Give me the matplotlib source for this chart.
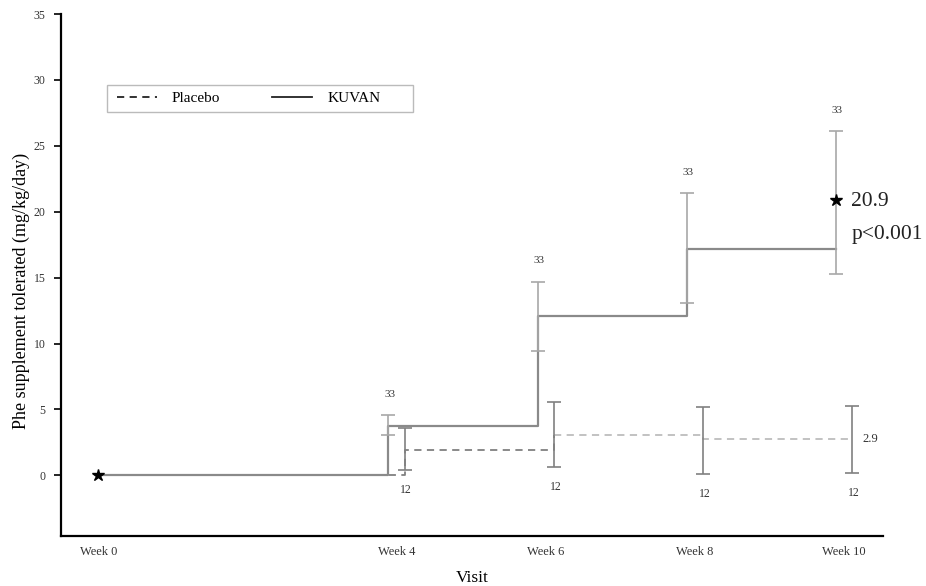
import matplotlib
matplotlib.use("Agg")
import matplotlib.pyplot as plt
from matplotlib.lines import Line2D
from matplotlib.patches import Rectangle

plt.rcParams['font.family'] = ['Liberation Serif', 'DejaVu Serif']

# visits (weeks) and tick labels
weeks = [0, 4, 6, 8, 10]
week_labels = ['Week 0', 'Week 4', 'Week 6', 'Week 8', 'Week 10']

# KUVAN: step line values, error bar centres / limits at weeks 4-10
kuvan_step = [0, 3.77, 12.06, 17.2, 17.2]
kuvan_point = [3.77, 12.06, 17.2, 20.9]
kuvan_lo = [3.04, 9.4, 13.07, 15.3]
kuvan_hi = [4.57, 14.7, 21.4, 26.1]
kuvan_n = [33, 33, 33, 33]

# Placebo
placebo_step = [0, 1.9, 3.08, 2.77, 2.77]
placebo_lo = [0.38, 0.6, 0.1, 0.15]
placebo_hi = [3.58, 5.57, 5.2, 5.24]
placebo_n = [12, 12, 12, 12]

shift = 0.11
kx = [weeks[0]] + [w - shift for w in weeks[1:]]
px = [weeks[0]] + [w + shift for w in weeks[1:]]

fig = plt.figure(figsize=(9.26, 5.86), dpi=100)
ax = fig.add_axes([0.0659, 0.0853, 0.8877, 0.8908])

# placebo dashed steps (darker first segment, lighter afterwards)
ax.plot(px[:3], placebo_step[:3], drawstyle='steps-post', color='#808080',
        lw=1.3, dashes=(4, 3))
ax.plot(px[2:], placebo_step[2:], drawstyle='steps-post', color='#bdbdbd',
        lw=1.3, dashes=(4, 3))

# KUVAN solid steps
ax.plot(kx, kuvan_step, drawstyle='steps-post', color='#8a8a8a', lw=1.6)

# error bars
k_err = [[m - lo for m, lo in zip(kuvan_point, kuvan_lo)],
         [hi - m for m, hi in zip(kuvan_point, kuvan_hi)]]
ax.errorbar(kx[1:], kuvan_point, yerr=k_err, fmt='none', ecolor='#a8a8a8',
            elinewidth=1.2, capsize=5, capthick=1.2)
p_mid = placebo_step[1:]
p_err = [[m - lo for m, lo in zip(p_mid, placebo_lo)],
         [hi - m for m, hi in zip(p_mid, placebo_hi)]]
ax.errorbar(px[1:], p_mid, yerr=p_err, fmt='none', ecolor='#808080',
            elinewidth=1.2, capsize=5, capthick=1.2)

# stars at week 0 and week 10
ax.plot(kx[0], kuvan_step[0], marker='*', color='black', ms=9, ls='none')
ax.plot(kx[-1], kuvan_point[-1], marker='*', color='black', ms=9, ls='none')

# n labels
for x, hi, n in zip(kx[1:], kuvan_hi, kuvan_n):
    ax.annotate(str(n), (x, hi), xytext=(1, 15), textcoords='offset points',
                ha='center', va='center', fontsize=8, color='#333333')
for x, lo, n in zip(px[1:], placebo_lo, placebo_n):
    ax.annotate(str(n), (x, lo), xytext=(1, -14), textcoords='offset points',
                ha='center', va='center', fontsize=8.5, color='#333333')

ax.annotate('2.9', (px[-1], p_mid[-1]), xytext=(7, 0), textcoords='offset points',
            ha='left', va='center', fontsize=9, color='#333333')
ax.annotate('20.9', (kx[-1], kuvan_point[-1]), xytext=(11, -1),
            textcoords='offset points', ha='left', va='center', fontsize=15.5,
            color='#222222')
ax.annotate('p<0.001', (kx[-1], kuvan_point[-1]), xytext=(11, -25),
            textcoords='offset points', ha='left', va='center', fontsize=15.5,
            color='#222222')

ax.set_xlim(-0.5, 10.52)
ax.set_ylim(-4.6, 35)
ax.set_xticks(weeks)
ax.set_xticklabels(week_labels)
ax.set_yticks(range(0, 36, 5))
ax.tick_params(axis='x', length=0, labelsize=9, pad=7, colors='#333333')
ax.tick_params(axis='y', length=5, width=1.2, labelsize=8.5, pad=6,
               colors='#333333')
ax.tick_params(axis='both', color='black')
for s in ['top', 'right']:
    ax.spines[s].set_visible(False)
for s in ['left', 'bottom']:
    ax.spines[s].set_linewidth(1.6)

ax.set_ylabel('Phe supplement tolerated (mg/kg/day)', fontsize=13)
ax.yaxis.set_label_coords(-0.038, 0.47)
ax.set_xlabel('Visit', fontsize=12.5, labelpad=9)

# legend: frame drawn separately so it matches the wide box
ax.add_patch(Rectangle((0.056, 0.812), 0.372, 0.052, transform=ax.transAxes,
                       fill=False, edgecolor='#bbbbbb', lw=1.0))
handles = [Line2D([], [], color='#222222', lw=1.3, dashes=(4, 3)),
           Line2D([], [], color='#222222', lw=1.3)]
ax.legend(handles, ['Placebo', 'KUVAN'], ncol=2, loc='center left',
          bbox_to_anchor=(0.068, 0.838), fontsize=11, frameon=False,
          handlelength=2.6, handletextpad=1.0, columnspacing=3.4,
          borderpad=0, borderaxespad=0)

fig.savefig('out.png', dpi=100)
